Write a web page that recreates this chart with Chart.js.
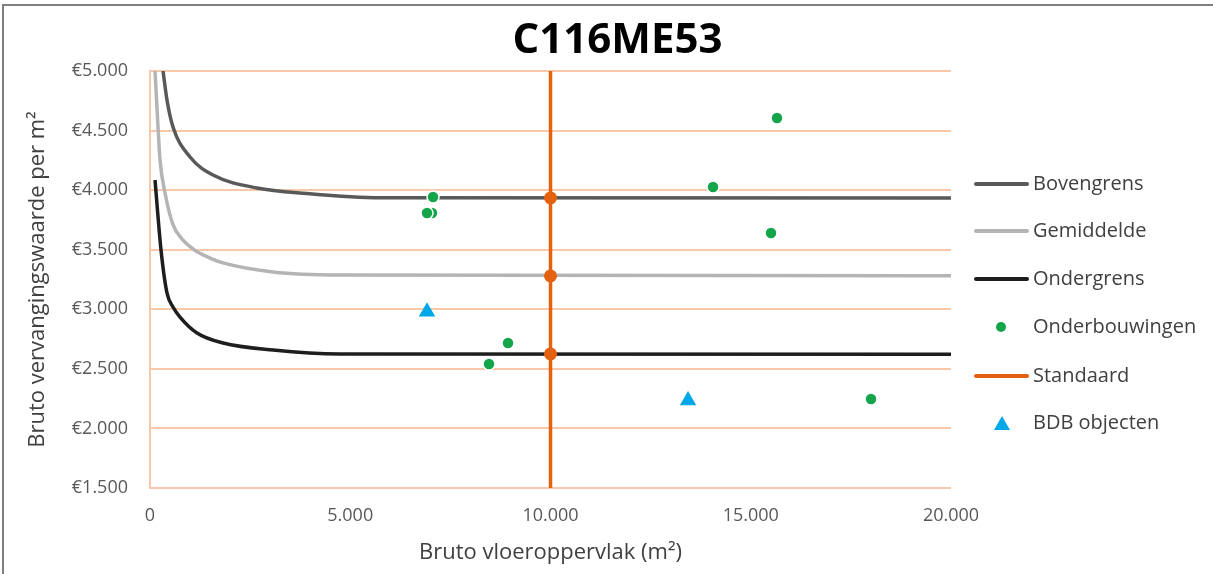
<!DOCTYPE html>
<html lang="nl">
<head>
  <meta charset="UTF-8">
  <title>C116ME53</title>
  <script src="https://cdn.jsdelivr.net/npm/chart.js"></script>
  <style>
    body {
      margin: 0;
      background: #fff;
      font-family: 'Open Sans', sans-serif;
      overflow: hidden;
    }
    .frame {
      position: absolute;
      left: 2px;
      top: 4px;
      width: 1400px;
      height: 700px;
      border: 2px solid #7f7f7f;
    }
    .wrap {
      position: absolute;
      left: 0;
      top: 0;
      width: 1213px;
      height: 574px;
    }
    .legend {
      position: absolute;
      left: 973px;
      top: 0;
      color: #404040;
      font-size: 20px;
    }
    .legend .item {
      position: absolute;
      left: 0;
      height: 24px;
      width: 240px;
    }
    .legend .sym {
      position: absolute;
      left: 0;
      top: 0;
      width: 57px;
      height: 24px;
    }
    .legend .line {
      position: absolute;
      left: 1px;
      top: 10px;
      width: 55px;
      height: 4px;
      border-radius: 2px;
    }
    .legend .dot {
      position: absolute;
      left: 23px;
      top: 7px;
      width: 10px;
      height: 10px;
      border-radius: 50%;
    }
    .legend .tri {
      position: absolute;
      left: 21px;
      top: 5px;
      width: 0;
      height: 0;
      border-left: 8px solid transparent;
      border-right: 8px solid transparent;
      border-bottom: 14px solid #00a8e8;
    }
    .legend .label {
      position: absolute;
      left: 60px;
      top: -3px;
      white-space: nowrap;
    }
  </style>
</head>
<body>
  <div class="frame"></div>
  <div class="wrap">
    <canvas id="chart" width="1213" height="574"></canvas>
  </div>
  <div class="legend" id="legend"></div>

  <script>
    // curves (x = m2, y = euro per m2)
    const bovenX = [325, 424, 574, 999, 1573, 2672, 3920, 5750, 20000];
    const bovenY = [5000, 4757, 4530, 4278, 4127, 4018, 3972, 3937, 3935];

    const gemX = [125, 200, 250, 375, 574, 800, 1100, 1500, 1823, 3072, 4745, 20000];
    const gemY = [5000, 4530, 4253, 3976, 3710, 3590, 3500, 3430, 3389, 3313, 3288, 3282];

    const onderX = [125, 275, 424, 574, 749, 1174, 1823, 3072, 4745, 20000];
    const onderY = [4085, 3498, 3137, 3019, 2935, 2801, 2717, 2658, 2625, 2622];

    // onderbouwingen (green dots)
    const ondX = [7042, 6917, 7067, 14058, 15656, 15506, 8939, 8465, 18003];
    const ondY = [3808, 3808, 3942, 4026, 4606, 3640, 2717, 2541, 2247];

    // BDB objecten (blue triangles)
    const bdbX = [6917, 13434];
    const bdbY = [2980, 2235];

    // standaard
    const standaardX = 10000;
    const standaardY = [2625, 3280, 3935];

    const yMin = 1500, yMax = 5000, yStep = 500;
    const xMin = 0, xMax = 20000, xStep = 5000;

    const legendItems = [
      { label: 'Bovengrens', type: 'line', color: '#595959' },
      { label: 'Gemiddelde', type: 'line', color: '#b4b4b4' },
      { label: 'Ondergrens', type: 'line', color: '#1e1e1e' },
      { label: 'Onderbouwingen', type: 'dot', color: '#14a54a' },
      { label: 'Standaard', type: 'line', color: '#e4620f' },
      { label: 'BDB objecten', type: 'tri', color: '#00a8e8' }
    ];

    function pts(xs, ys) {
      return xs.map((x, i) => ({ x: x, y: ys[i] }));
    }

    function fmt(n) {
      return n.toString().replace(/\B(?=(\d{3})+(?!\d))/g, '.');
    }

    const standaardData = [{ x: standaardX, y: yMin }]
      .concat(standaardY.map(y => ({ x: standaardX, y: y })))
      .concat([{ x: standaardX, y: yMax }]);

    const curve = {
      showLine: true,
      pointRadius: 0,
      borderWidth: 3.5,
      cubicInterpolationMode: 'monotone',
      order: 3
    };

    new Chart(document.getElementById('chart'), {
      type: 'scatter',
      data: {
        datasets: [
          Object.assign({ label: 'Bovengrens', data: pts(bovenX, bovenY), borderColor: '#595959' }, curve),
          Object.assign({ label: 'Gemiddelde', data: pts(gemX, gemY), borderColor: '#b4b4b4' }, curve),
          Object.assign({ label: 'Ondergrens', data: pts(onderX, onderY), borderColor: '#1e1e1e' }, curve),
          {
            label: 'Onderbouwingen',
            data: pts(ondX, ondY),
            pointStyle: 'circle',
            pointRadius: 6,
            backgroundColor: '#14a54a',
            borderColor: '#ffffff',
            borderWidth: 1.5,
            order: 1
          },
          {
            label: 'Standaard',
            data: standaardData,
            showLine: true,
            borderColor: '#e4620f',
            borderWidth: 3.5,
            backgroundColor: '#e4620f',
            pointRadius: ctx => (ctx.parsed && (ctx.parsed.y === yMin || ctx.parsed.y === yMax)) ? 0 : 6.5,
            pointBorderWidth: 0,
            order: 2
          },
          {
            label: 'BDB objecten',
            data: pts(bdbX, bdbY),
            pointStyle: 'triangle',
            pointRadius: 9.5,
            backgroundColor: '#00a8e8',
            borderColor: '#00a8e8',
            borderWidth: 0,
            order: 1
          }
        ]
      },
      options: {
        responsive: false,
        animation: false,
        layout: { padding: { left: 22, right: 0, top: 0, bottom: 0 } },
        plugins: {
          legend: { display: false },
          tooltip: { enabled: false },
          title: {
            display: true,
            text: 'C116ME53',
            color: '#000000',
            font: { family: 'Open Sans', size: 42, weight: 'bold', lineHeight: 1.2 },
            padding: { top: 16, bottom: 4.6 }
          }
        },
        scales: {
          x: {
            type: 'linear',
            min: xMin,
            max: xMax,
            grid: { display: false, drawTicks: false },
            border: { display: false },
            ticks: {
              stepSize: xStep,
              padding: 17,
              color: '#595959',
              font: { family: 'Open Sans', size: 18 },
              callback: v => fmt(v)
            },
            title: {
              display: true,
              text: 'Bruto vloeroppervlak (m²)',
              color: '#404040',
              font: { family: 'Open Sans', size: 22 },
              padding: { top: 0, bottom: 8 }
            },
            afterFit: s => { s.height = 86; }
          },
          y: {
            type: 'linear',
            min: yMin,
            max: yMax,
            grid: { color: '#f8c8a8', lineWidth: 2, drawTicks: false },
            border: { display: true, color: '#f8c8a8', width: 2 },
            ticks: {
              stepSize: yStep,
              padding: 22,
              color: '#595959',
              font: { family: 'Open Sans', size: 18 },
              callback: v => '€' + fmt(v)
            },
            title: {
              display: true,
              text: 'Bruto vervangingswaarde per m²',
              color: '#404040',
              font: { family: 'Open Sans', size: 22 },
              padding: { top: 3, bottom: 0 }
            },
            afterFit: s => { s.width = 128; }
          },
          yRight: {
            position: 'right',
            min: yMin,
            max: yMax,
            grid: { display: false, drawTicks: false },
            border: { display: false },
            ticks: { display: false },
            afterFit: s => { s.width = 262; }
          }
        }
      }
    });

    // legend
    const legendEl = document.getElementById('legend');
    const legendTop = [172, 219, 267, 315, 364, 411];
    legendItems.forEach((item, i) => {
      const row = document.createElement('div');
      row.className = 'item';
      row.style.top = legendTop[i] + 'px';
      const sym = document.createElement('div');
      sym.className = 'sym';
      const mark = document.createElement('div');
      mark.className = item.type;
      if (item.type === 'tri') {
        mark.style.borderBottomColor = item.color;
      } else {
        mark.style.background = item.color;
      }
      sym.appendChild(mark);
      const label = document.createElement('span');
      label.className = 'label';
      label.textContent = item.label;
      row.appendChild(sym);
      row.appendChild(label);
      legendEl.appendChild(row);
    });
  </script>
</body>
</html>
